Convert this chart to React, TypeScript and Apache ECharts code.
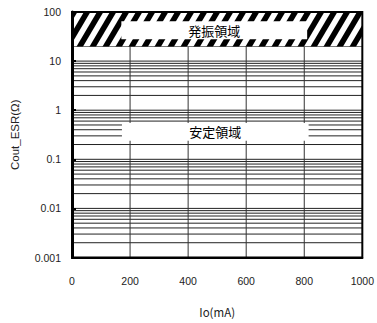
import React, { useEffect, useRef } from "react";
import * as echarts from "echarts";

// ---- data ----
const xTicks = [0, 200, 400, 600, 800, 1000];
const xRange = [0, 1000];
const xGridValues = [200, 400, 600, 800];
const decades = [0.001, 0.01, 0.1, 1, 10];
const multipliers = [1, 2, 3, 4, 5, 6, 7, 8, 9];
const yRange = [0.001, 100];
const oscillationRange = [20, 100]; // ESR region that oscillates
const oscLabelX = [170, 810];
const oscLabelY = [28, 65];
const stableLabelX = [172, 815];
const stableLabelY = [0.24, 0.55];
const oscName = "発振領域";
const stableName = "安定領域";

const hLines: number[] = [];
decades.forEach((d) => multipliers.forEach((m) => hLines.push(+(d * m).toPrecision(3))));

function makeHatch(): HTMLCanvasElement {
  const w = 13;
  const h = 22;
  const t = 6.5;
  const c = document.createElement("canvas");
  c.width = w;
  c.height = h;
  const ctx = c.getContext("2d")!;
  ctx.fillStyle = "#fff";
  ctx.fillRect(0, 0, w, h);
  ctx.fillStyle = "#000";
  for (const off of [-w, 0, w]) {
    ctx.beginPath();
    ctx.moveTo(off, h);
    ctx.lineTo(off + t, h);
    ctx.lineTo(off + w + t, 0);
    ctx.lineTo(off + w, 0);
    ctx.closePath();
    ctx.fill();
  }
  return c;
}

export default function App() {
  const ref = useRef<HTMLDivElement>(null);
  useEffect(() => {
    if (!ref.current) return;
    const chart = echarts.init(ref.current, null, { renderer: "svg" });
    const hatch = makeHatch();
    const labelFont = "Liberation Sans, Arial, sans-serif";
    const lineSeries = (pts: number[][], color: string) => ({
      type: "line",
      data: pts,
      showSymbol: false,
      silent: true,
      z: 3,
      lineStyle: { color, width: 1 },
    });
    chart.setOption({
      animation: false,
      backgroundColor: "#fff",
      grid: {
        left: 72,
        right: 12,
        top: 12,
        bottom: 63,
        show: true,
        borderColor: "#000",
        borderWidth: 2,
        backgroundColor: "transparent",
        z: 20,
      },
      xAxis: {
        type: "value",
        min: xRange[0],
        max: xRange[1],
        interval: 200,
        z: 20,
        name: "Io(mA)",
        nameLocation: "middle",
        nameGap: 49,
        nameTextStyle: { fontSize: 11.5, color: "#222", fontFamily: "Noto Sans CJK JP" },
        axisLine: { show: true, lineStyle: { color: "#000", width: 2 } },
        axisTick: { show: false },
        splitLine: { show: false },
        axisLabel: {
          margin: 18,
          fontSize: 10.5,
          color: "#222",
          fontFamily: labelFont,
          customValues: xTicks,
          formatter: (v: number) => String(v),
        },
      },
      yAxis: {
        type: "log",
        logBase: 10,
        min: yRange[0],
        max: yRange[1],
        z: 20,
        name: "Cout_ESR(Ω)",
        nameLocation: "middle",
        nameGap: 51,
        nameTextStyle: { fontSize: 11.5, color: "#222", fontFamily: labelFont },
        axisLine: { show: true, lineStyle: { color: "#000", width: 3 } },
        axisTick: { show: true, inside: true, length: 4, lineStyle: { color: "#000", width: 2 } },
        splitLine: { show: false },
        minorTick: { show: false },
        axisLabel: {
          margin: 11,
          fontSize: 10.5,
          color: "#222",
          fontFamily: labelFont,
          formatter: (v: number) => String(+v.toPrecision(3)),
        },
      },
      series: [
        ...hLines.map((v) => lineSeries([[xRange[0], v], [xRange[1], v]], "#222")),
        ...xGridValues.map((v) => lineSeries([[v, yRange[0]], [v, yRange[1]]], "#333")),
        {
          type: "line",
          data: [],
          silent: true,
          markArea: {
            silent: true,
            z: 10,
            itemStyle: { color: { image: hatch, repeat: "repeat" } as any },
            label: { show: false },
            data: [[{ yAxis: oscillationRange[0] }, { yAxis: oscillationRange[1] }]],
          },
        },
        {
          type: "line",
          data: [],
          silent: true,
          markArea: {
            silent: true,
            z: 11,
            itemStyle: { color: "#fff" },
            label: {
              show: true,
              position: "inside",
              color: "#000",
              fontSize: 13,
              fontFamily: "Noto Sans CJK JP",
              formatter: "{b}",
            },
            data: [
              [
                { name: oscName, xAxis: oscLabelX[0], yAxis: oscLabelY[0] },
                { xAxis: oscLabelX[1], yAxis: oscLabelY[1] },
              ],
              [
                { name: stableName, xAxis: stableLabelX[0], yAxis: stableLabelY[0] },
                { xAxis: stableLabelX[1], yAxis: stableLabelY[1] },
              ],
            ],
          },
        },
      ],
    });
    return () => chart.dispose();
  }, []);
  return <div ref={ref} style={{ width: 377, height: 323, position: "absolute", left: 0, top: 0 }} />;
}
